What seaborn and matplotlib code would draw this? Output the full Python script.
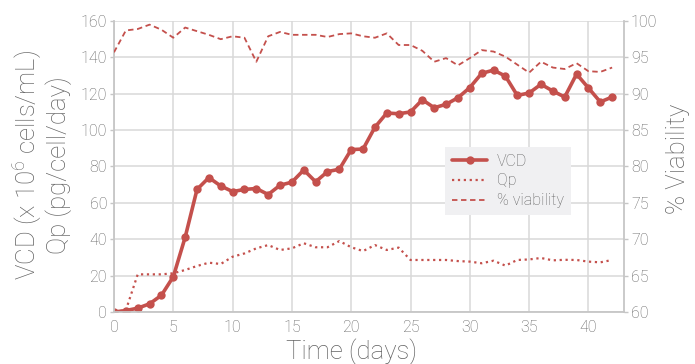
import numpy as np
import pandas as pd
import matplotlib
matplotlib.use("Agg")
import matplotlib.pyplot as plt
import seaborn as sns

# Culture time course
days = list(range(0, 43))
vcd = [0, 0.8, 2.1, 4.5, 9.2, 19.4, 41.1, 67.4, 73.9, 69.3, 66.2, 67.4, 67.9, 64.6,
       69.7, 71.4, 78.1, 71.6, 77.2, 78.5, 89.3, 89.6, 101.6, 109.4, 109.0, 110.0,
       116.7, 112.3, 114.2, 117.8, 123.4, 131.2, 133.0, 129.7, 119.1, 120.4, 125.2,
       121.5, 118.2, 130.8, 123.2, 115.5, 118.2]
qp = [0, 1.0, 20.7, 20.7, 20.7, 21.3, 23.1, 25.3, 27.1, 26.4, 30.4, 32.2, 35.0, 36.8,
      34.1, 35.0, 37.8, 35.6, 35.6, 39.0, 35.6, 33.5, 36.8, 34.1, 35.4, 28.6, 28.6,
      28.6, 28.6, 28.0, 27.7, 26.8, 28.2, 25.5, 28.6, 28.9, 29.7, 28.4, 28.7, 28.6,
      27.7, 27.3, 28.6]
viability = [95.7, 98.7, 98.9, 99.5, 98.8, 97.7, 99.1, 98.6, 98.1, 97.5, 97.9, 97.7,
             94.4, 97.9, 98.5, 98.1, 98.1, 98.1, 97.8, 98.2, 98.3, 97.9, 97.7, 98.3,
             96.7, 96.7, 95.9, 94.4, 94.9, 93.9, 94.9, 96.0, 95.8, 95.1, 94.0, 92.9,
             94.4, 93.6, 93.4, 94.2, 93.1, 93.0, 93.6]
x_ticks = [0, 5, 10, 15, 20, 25, 30, 35, 40]
left_ticks = [0, 20, 40, 60, 80, 100, 120, 140, 160]
right_ticks = [60, 65, 70, 75, 80, 85, 90, 95, 100]

df = pd.DataFrame({"day": days, "VCD": vcd, "Qp": qp, "viability": viability})

sns.set_theme(style="white")
plt.rcParams["font.family"] = ["Roboto", "DejaVu Sans"]
plt.rcParams["font.weight"] = "light"

red = "#c4504c"
grid_c = "#d9d9d9"
spine_c = "#c6c6c6"
text_c = "#626262"

W, H = 695, 364
fig = plt.figure(figsize=(W / 100, H / 100), dpi=100)
ax = fig.add_axes([114 / W, 1 - 312 / H, (624 - 114) / W, (312 - 21) / H])
ax2 = ax.twinx()

sns.lineplot(data=df, x="day", y="VCD", ax=ax, color=red, lw=2.6, marker="o",
             markersize=6, markeredgewidth=0, label="VCD", legend=False)
sns.lineplot(data=df, x="day", y="Qp", ax=ax, color=red, lw=1.6, linestyle=":",
             label="Qp", legend=False)
sns.lineplot(data=df, x="day", y="viability", ax=ax2, color=red, lw=1.3,
             dashes=(3, 2), label="% viability", legend=False)

ax.set_xlim(0, 43)
ax.set_ylim(0, 160)
ax2.set_ylim(60, 100)
ax.set_xticks(x_ticks)
ax.set_yticks(left_ticks)
ax2.set_yticks(right_ticks)

ax.grid(True, color=grid_c, lw=1.1)
ax.set_axisbelow(True)
ax2.grid(False)

for a in (ax, ax2):
    for s in a.spines.values():
        s.set_visible(False)
ax.spines["left"].set_visible(True)
ax.spines["bottom"].set_visible(True)
ax2.spines["right"].set_visible(True)
for s in (ax.spines["left"], ax.spines["bottom"], ax2.spines["right"]):
    s.set_color(spine_c)
    s.set_linewidth(1.3)

ax.tick_params(axis="y", which="both", left=True, length=3, width=1, color=spine_c,
               labelsize=11.5, labelcolor=text_c, pad=2)
ax.tick_params(axis="x", bottom=True, length=0, labelsize=11.5, labelcolor=text_c, pad=6)
ax2.tick_params(axis="y", right=True, length=3, width=1, color=spine_c,
                labelsize=11.5, labelcolor=text_c, pad=2)

ax.set_xlabel("")
ax.set_ylabel("")
ax2.set_ylabel("")

fig.text(352 / W, 1 - 352 / H, "Time (days)", ha="center", va="center",
         fontsize=18.5, color=text_c)
fig.text(41 / W, 1 - 165 / H, "VCD (x 10$^{\\mathregular{6}}$ cells/mL)\nQp (pg/cell/day)",
         rotation=90, ha="center", va="center", fontsize=18.5, color=text_c,
         linespacing=1.1, multialignment="center")
fig.text(678 / W, 1 - 159 / H, "% Viability", rotation=90, ha="center", va="center",
         fontsize=18.5, color=text_c)

h1, l1 = ax.get_legend_handles_labels()
h2, l2 = ax2.get_legend_handles_labels()
leg = ax2.legend(h1 + h2, l1 + l2, loc="center", bbox_to_anchor=(508 / W, 1 - 181 / H),
                 bbox_transform=fig.transFigure, frameon=True, fancybox=False,
                 facecolor="#f0f0f2", edgecolor="none", framealpha=1, fontsize=11.5,
                 handlelength=2.2, labelspacing=0.3, borderpad=0.45, handletextpad=0.6)
for t in leg.get_texts():
    t.set_color(text_c)

fig.savefig("out.png", dpi=100)
